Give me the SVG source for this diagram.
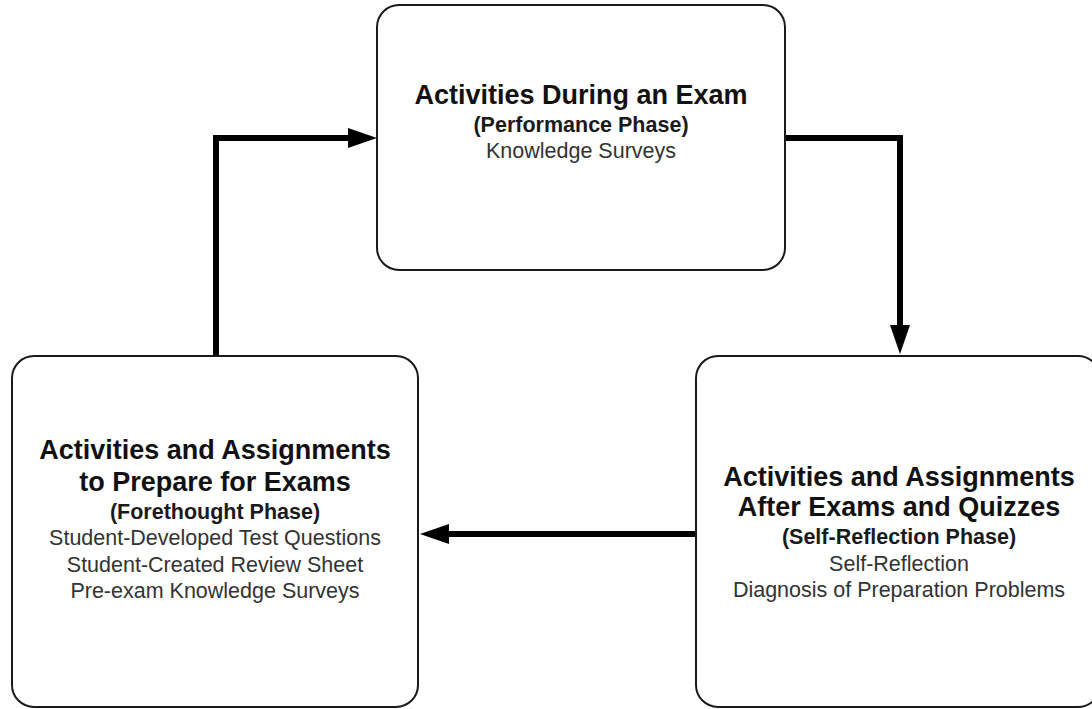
<svg xmlns="http://www.w3.org/2000/svg" width="1092" height="709" viewBox="0 0 1092 709">
<style>
.box{fill:#fff;stroke:#1a1a1a;stroke-width:2}
.t{font-family:"Liberation Sans",Arial,sans-serif;font-weight:bold;font-size:27px;fill:#111;text-anchor:middle}
.s{font-family:"Liberation Sans",Arial,sans-serif;font-weight:bold;font-size:21.5px;fill:#1a1a1a;text-anchor:middle}
.b{font-family:"Liberation Sans",Arial,sans-serif;font-size:21.5px;fill:#333;text-anchor:middle}
.c{fill:none;stroke:#000;stroke-width:6;stroke-linejoin:miter;marker-end:url(#ah)}
</style>
<defs>
<marker id="ah" markerUnits="userSpaceOnUse" viewBox="0 0 29 20" markerWidth="29" markerHeight="20" refX="0" refY="10" orient="auto">
<path d="M0,0 L29,10 L0,20 z" fill="#000"/>
</marker>
</defs>
<rect width="1092" height="709" fill="#fff"/>
<g id="connectors">
<path class="c" d="M216,356 L216,138 L348,138"/>
<path class="c" d="M785,138 L900,138 L900,325"/>
<path class="c" d="M696,534 L449,534"/>
</g>
<g id="node-performance">
<rect class="box" x="377" y="5" width="408" height="265" rx="22"/>
<text class="t" x="581" y="104">Activities During an Exam</text>
<text class="s" x="581" y="132">(Performance Phase)</text>
<text class="b" x="581" y="157.5">Knowledge Surveys</text>
</g>
<g id="node-forethought">
<rect class="box" x="12" y="356" width="406" height="351" rx="22"/>
<text class="t" x="215" y="458.5">Activities and Assignments</text>
<text class="t" x="215" y="491">to Prepare for Exams</text>
<text class="s" x="215" y="518.5">(Forethought Phase)</text>
<text class="b" x="215" y="545">Student-Developed Test Questions</text>
<text class="b" x="215" y="571.7">Student-Created Review Sheet</text>
<text class="b" x="215" y="598.3">Pre-exam Knowledge Surveys</text>
</g>
<g id="node-selfreflection">
<rect class="box" x="696" y="356" width="404" height="351" rx="22"/>
<text class="t" x="899" y="486">Activities and Assignments</text>
<text class="t" x="899" y="516">After Exams and Quizzes</text>
<text class="s" x="899" y="543.5">(Self-Reflection Phase)</text>
<text class="b" x="899" y="571">Self-Reflection</text>
<text class="b" x="899" y="597.3">Diagnosis of Preparation Problems</text>
</g>
</svg>
